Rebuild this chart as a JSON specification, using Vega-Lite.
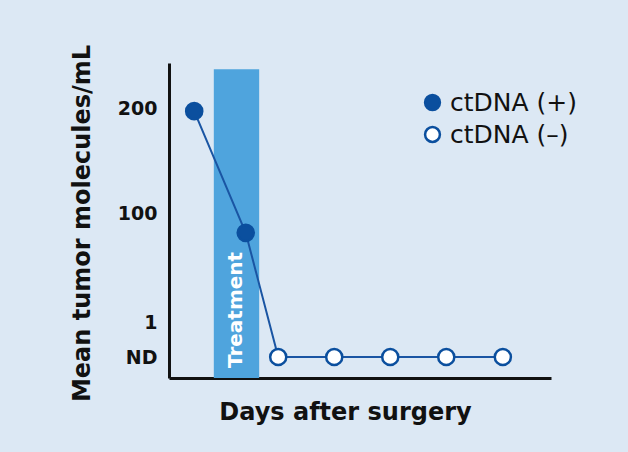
{
  "$schema": "https://vega.github.io/schema/vega-lite/v6.json",
  "autosize": "none",
  "width": 382,
  "height": 315,
  "padding": {"left": 169, "top": 63, "right": 77, "bottom": 74},
  "background": "#dce8f4",
  "config": {
    "view": {"stroke": null},
    "font": "DejaVu Sans"
  },
  "datasets": {
    "series": [
      {"day": 0.45, "molecules": 197, "status": "ctDNA (+)"},
      {"day": 1.37, "molecules": 82, "status": "ctDNA (+)"},
      {"day": 1.95, "molecules": 0, "status": "ctDNA (–)"},
      {"day": 2.95, "molecules": 0, "status": "ctDNA (–)"},
      {"day": 3.95, "molecules": 0, "status": "ctDNA (–)"},
      {"day": 4.95, "molecules": 0, "status": "ctDNA (–)"},
      {"day": 5.96, "molecules": 0, "status": "ctDNA (–)"}
    ],
    "treatment": [
      {"start": 0.8, "end": 1.61, "top": 237, "bottom": -0.6, "label": "Treatment"}
    ]
  },
  "layer": [
    {
      "data": {"name": "treatment"},
      "mark": {"type": "rect", "color": "#4fa4dd"},
      "encoding": {
        "x": {"field": "start", "type": "quantitative", "scale": {"domain": [0, 6.82], "nice": false, "zero": false},
          "axis": {"title": "Days after surgery", "labels": false, "ticks": false, "grid": false, "domainColor": "#111111", "domainWidth": 3,
            "titleFontSize": 24, "titleFontWeight": "bold", "titleColor": "#111111", "titleX": 176, "titleY": 34, "titleBaseline": "middle", "titleAlign": "center"}},
        "x2": {"field": "end"},
        "y": {"field": "bottom", "type": "quantitative",
          "scale": {"domain": [-0.6, 0, 1, 100, 200, 243], "range": [315, 294, 259, 150, 45, 0], "nice": false, "zero": false},
          "axis": {"title": "Mean tumor molecules/mL", "values": [0, 1, 100, 200], "labelExpr": "datum.value == 0 ? 'ND' : datum.label",
            "ticks": false, "grid": false, "domainColor": "#111111", "domainWidth": 3, "labelFontSize": 19, "labelFontWeight": "bold",
            "labelColor": "#111111", "labelPadding": 12, "titleFontSize": 24, "titleFontWeight": "bold", "titleColor": "#111111",
            "titleX": -87, "titleY": 160, "titleBaseline": "middle", "titleAlign": "center", "titleAngle": 270}},
        "y2": {"field": "top"}
      }
    },
    {
      "data": {"name": "treatment"},
      "mark": {"type": "text", "angle": 270, "align": "left", "baseline": "middle", "color": "white", "fontSize": 20, "fontWeight": "bold", "dx": 10},
      "encoding": {
        "x": {"field": "start", "type": "quantitative"},
        "y": {"field": "bottom", "type": "quantitative"},
        "text": {"field": "label"}
      },
      "transform": [{"calculate": "(datum.start + datum.end) / 2", "as": "start"}]
    },
    {
      "data": {"name": "series"},
      "mark": {"type": "line", "color": "#1a55a3", "strokeWidth": 2},
      "encoding": {
        "x": {"field": "day", "type": "quantitative"},
        "y": {"field": "molecules", "type": "quantitative"},
        "order": {"field": "day"}
      }
    },
    {
      "data": {"name": "series"},
      "mark": {"type": "point", "filled": false, "shape": "circle", "size": 260, "stroke": "#0b4f9e", "strokeWidth": 2.5, "opacity": 1},
      "encoding": {
        "x": {"field": "day", "type": "quantitative"},
        "y": {"field": "molecules", "type": "quantitative"},
        "fill": {"field": "status", "type": "nominal",
          "scale": {"domain": ["ctDNA (+)", "ctDNA (–)"], "range": ["#0b4f9e", "#ffffff"]},
          "legend": {"title": null, "orient": "none", "legendX": 251, "legendY": 27, "symbolType": "circle", "symbolSize": 220,
            "symbolStrokeColor": "#0b4f9e", "symbolStrokeWidth": 2.5, "symbolFillColor": null, "symbolOpacity": 1,
            "labelFontSize": 25, "labelColor": "#111111", "labelFont": "DejaVu Sans", "labelFontWeight": "normal", "rowPadding": 6, "labelOffset": 5}}
      }
    }
  ]
}
